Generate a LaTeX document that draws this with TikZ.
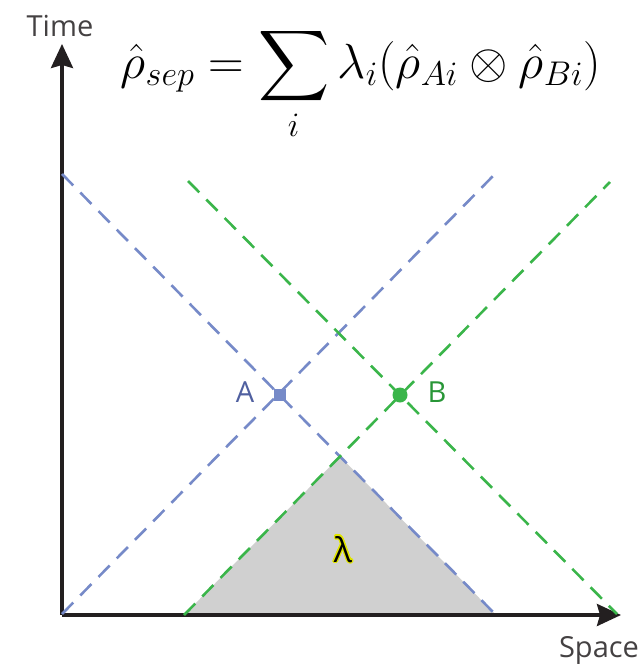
\documentclass[tikz,border=0pt]{standalone}
\usepackage{graphicx}
\usepackage{amsmath}
\usepackage{fontspec}
\setmainfont{Open Sans}
\usepackage{contour}
\contourlength{1.3pt}
\usetikzlibrary{arrows.meta}
\definecolor{lblue}{RGB}{118,138,200}
\definecolor{ablue}{RGB}{80,96,160}
\definecolor{lgreen}{RGB}{58,181,74}
\definecolor{bgreen}{RGB}{40,150,55}
\definecolor{axisc}{RGB}{35,31,32}
\definecolor{tri}{RGB}{208,208,208}
\definecolor{yel}{RGB}{225,230,0}
\begin{document}
\begin{tikzpicture}[x=1pt,y=-1pt,
  axis/.style={line width=3.5pt, draw=axisc, -{Stealth[length=24pt,width=22pt,inset=3pt]}},
  cone/.style={line width=2.6pt, dash pattern=on 16pt off 10pt},
  lab/.style={font=\fontsize{29}{32}\selectfont, inner sep=0pt, anchor=base},
]
\useasboundingbox (0,0) rectangle (643,664);
% end points of the light cones
\coordinate (b1s) at (62,174);  \coordinate (b1e) at (495,614);
\coordinate (b2s) at (62,614);  \coordinate (b2e) at (495,174);
\coordinate (g1s) at (184,615); \coordinate (g1e) at (610,182);
\coordinate (g2s) at (188,181); \coordinate (g2e) at (617,614);
\coordinate (apex) at (intersection of b1s--b1e and g1s--g1e);
% shaded overlap
\fill[tri] (g1s) -- (apex) -- (b1e) -- cycle;
% axes
\coordinate (O) at (62,615);
\coordinate (tTop) at (62,44);
\coordinate (sEnd) at (621,615);
\draw[axis] (O) -- (tTop);
\draw[axis] (O) -- (sEnd);
% cones
\draw[cone, lblue] (b1s) -- (b1e);
\draw[cone, lblue] (b2s) -- (b2e);
\draw[cone, lgreen] (g1s) -- (g1e);
\draw[cone, lgreen] (g2s) -- (g2e);
% events
\node[fill=lblue, minimum size=12pt, inner sep=0pt] (A) at (280,395) {};
\node[fill=lgreen, circle, minimum size=15pt, inner sep=0pt] (B) at (400,395) {};
\node[lab, text=ablue] (Alab) at (245,402) {A};
\node[lab, text=bgreen] (Blab) at (437,402) {B};
% axis labels
\node[lab, text=axisc!85!white] (time) at (60,36) {Time};
\node[lab, text=axisc!85!white] (space) at (599,657) {Space};
% lambda
\node[lab, font=\fontsize{34}{38}\selectfont] (lam) at (343,562) {\contour{yel}{λ}};
% formula
\node[inner sep=0pt] (eq) at (361,84) {\scalebox{2.38}{\fontsize{20}{24}\selectfont $\displaystyle \hat{\rho}_{sep}=\sum_i \lambda_i(\hat{\rho}_{Ai}\otimes\hat{\rho}_{Bi})$}};
\end{tikzpicture}
\end{document}
